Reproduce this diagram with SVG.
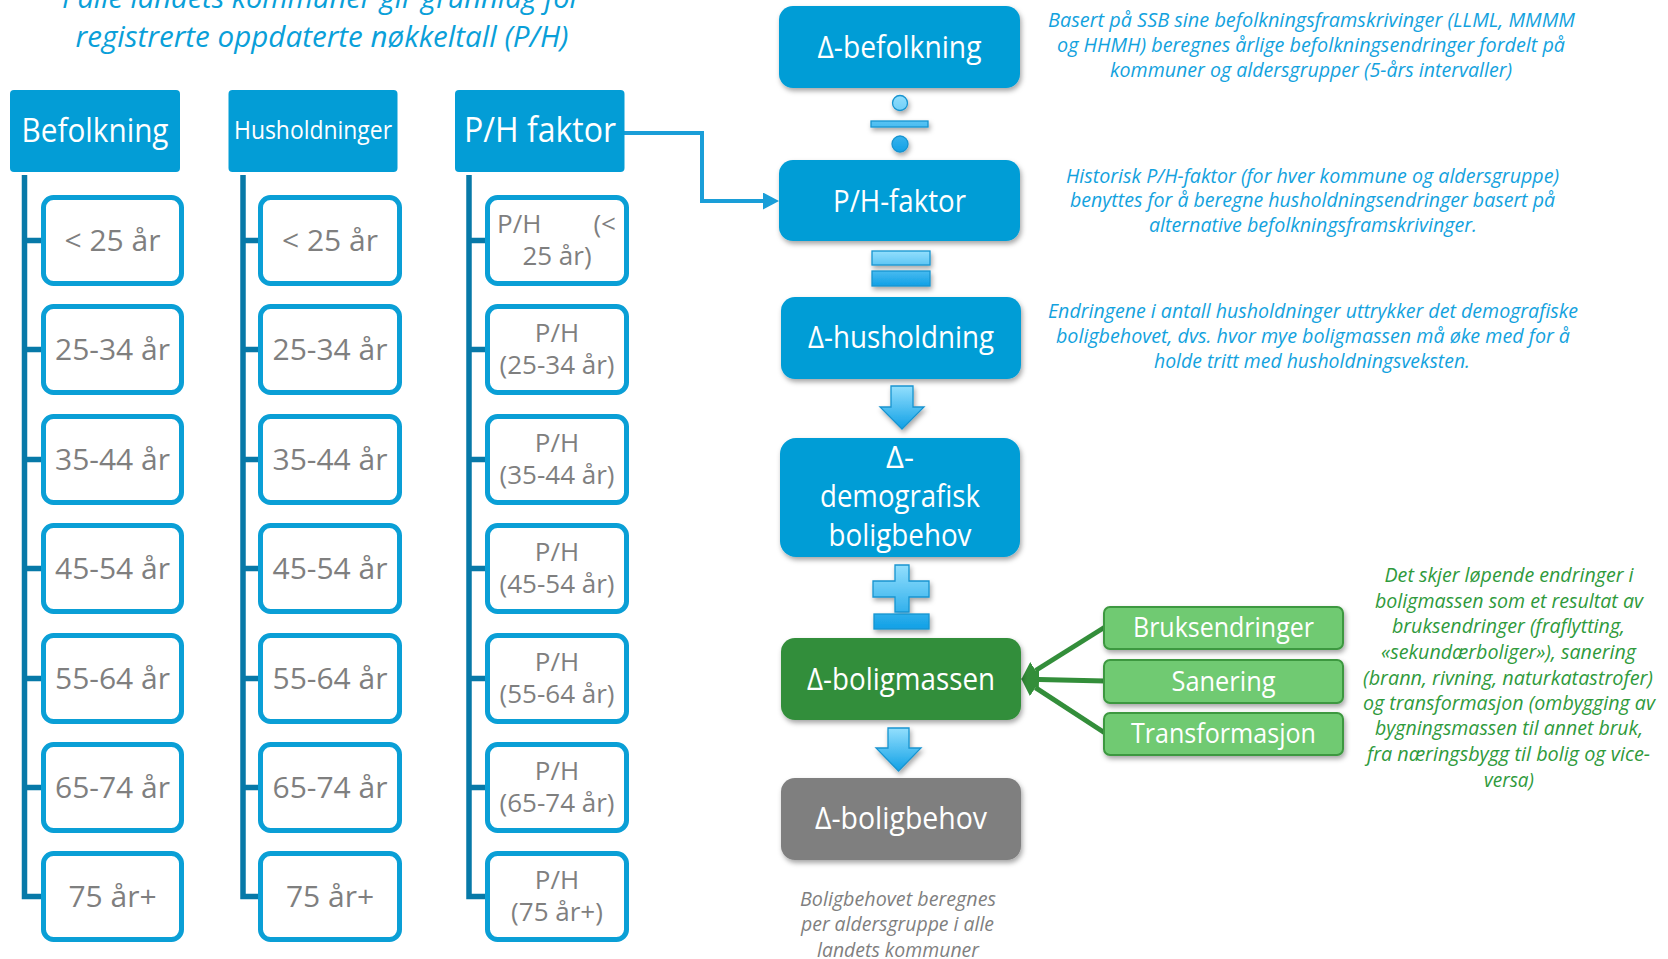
<svg xmlns="http://www.w3.org/2000/svg" width="1668" height="959" viewBox="0 0 1668 959">
<style>
  text { font-family: "Open Sans", "Liberation Sans", sans-serif; }
  .title { font-size: 30px; font-style: italic; fill: #0a9fd9; text-anchor: middle; }
  .hdr { fill: #039dd6; }
  .hdrT { fill: #ffffff; text-anchor: middle; }
  .child { fill: #ffffff; stroke: #0a9fd6; stroke-width: 5; }
  .childT { fill: #7f7f7f; font-size: 30px; text-anchor: middle; }
  .phT { fill: #7f7f7f; font-size: 26px; text-anchor: middle; }
  .tree { fill: none; stroke: #0779a8; stroke-width: 5.5; }
  .bbox { fill: #039dd6; }
  .gbox { fill: #338e3a; }
  .grbox { fill: #7f7f7f; }
  .boxT { fill: #ffffff; font-size: 31px; text-anchor: middle; }
  .lg { fill: #6fca72; stroke: #3c983f; stroke-width: 2; }
  .lgT { fill: #ffffff; font-size: 27px; text-anchor: middle; }
  .note { font-size: 20px; font-style: italic; text-anchor: middle; }
  .blueN { fill: #13a2de; }
  .greenN { fill: #2f9a3c; }
  .grayN { fill: #7f7f7f; }
  .op { stroke: #1894d0; stroke-width: 1.3; }
  .conn { fill: none; stroke: #1a9ed8; stroke-width: 4; }
  .gconn { fill: none; stroke: #338e3a; stroke-width: 5; }
</style>
<defs>
  <filter id="sh" x="-10%" y="-10%" width="125%" height="140%">
    <feDropShadow dx="1.5" dy="3" stdDeviation="2.5" flood-color="#000" flood-opacity="0.35"/>
  </filter>
  <marker id="ab" markerUnits="userSpaceOnUse" markerWidth="16" markerHeight="17" refX="0" refY="8.5" orient="auto">
    <path d="M0,0 L16,8.5 L0,17 z" fill="#1a9ed8"/>
  </marker>
  <marker id="ag" markerUnits="userSpaceOnUse" markerWidth="17" markerHeight="20" refX="0" refY="10" orient="auto">
    <path d="M0,0 L17,10 L0,20 z" fill="#338e3a"/>
  </marker>
  <linearGradient id="gDiv" gradientUnits="userSpaceOnUse" x1="0" y1="95" x2="0" y2="153">
    <stop offset="0" stop-color="#93dffd"/><stop offset="1" stop-color="#10a0e6"/>
  </linearGradient>
  <linearGradient id="gEq" gradientUnits="userSpaceOnUse" x1="0" y1="251" x2="0" y2="286">
    <stop offset="0" stop-color="#93dffd"/><stop offset="1" stop-color="#10a0e6"/>
  </linearGradient>
  <linearGradient id="gA1" gradientUnits="userSpaceOnUse" x1="0" y1="386" x2="0" y2="429">
    <stop offset="0" stop-color="#93dffd"/><stop offset="1" stop-color="#10a0e6"/>
  </linearGradient>
  <linearGradient id="gPM" gradientUnits="userSpaceOnUse" x1="0" y1="565" x2="0" y2="629">
    <stop offset="0" stop-color="#93dffd"/><stop offset="1" stop-color="#10a0e6"/>
  </linearGradient>
  <linearGradient id="gA2" gradientUnits="userSpaceOnUse" x1="0" y1="728" x2="0" y2="771">
    <stop offset="0" stop-color="#93dffd"/><stop offset="1" stop-color="#10a0e6"/>
  </linearGradient>
</defs>

<rect width="1668" height="959" fill="#ffffff"/>

<g id="title">
  <text class="title" x="321.5" y="8" textLength="519" lengthAdjust="spacingAndGlyphs">I alle landets kommuner gir grunnlag for</text>
  <text class="title" x="322" y="47" textLength="493" lengthAdjust="spacingAndGlyphs">registrerte oppdaterte nøkkeltall (P/H)</text>
</g>

<!-- connectors -->
<g id="connectors">
  <path class="tree" d="M24.5,175 V896.5 H41 M24.5,240.5 H41 M24.5,349.5 H41 M24.5,459.5 H41 M24.5,568.5 H41 M24.5,678.5 H41 M24.5,787.5 H41"/>
  <path class="tree" d="M243,175 V896.5 H258 M243,240.5 H258 M243,349.5 H258 M243,459.5 H258 M243,568.5 H258 M243,678.5 H258 M243,787.5 H258"/>
  <path class="tree" d="M469,175 V896.5 H485 M469,240.5 H485 M469,349.5 H485 M469,459.5 H485 M469,568.5 H485 M469,678.5 H485 M469,787.5 H485"/>
  <path class="conn" d="M624,133 H702 V201 H763" marker-end="url(#ab)"/>
  <path class="gconn" d="M1105,627 L1035.6,670.5" marker-end="url(#ag)"/>
  <path class="gconn" d="M1105,681 L1039,679.4" marker-end="url(#ag)"/>
  <path class="gconn" d="M1105,733 L1035.4,687.7" marker-end="url(#ag)"/>
</g>

<!-- headers -->
<g id="hdr-befolkning">
  <rect class="hdr" x="10" y="90" width="170" height="82" rx="4"/>
  <text class="hdrT" x="95" y="142" font-size="32" textLength="147" lengthAdjust="spacingAndGlyphs">Befolkning</text>
</g>
<g id="hdr-husholdninger">
  <rect class="hdr" x="228.5" y="90" width="169" height="82" rx="4"/>
  <text class="hdrT" x="313" y="139" font-size="25" textLength="158" lengthAdjust="spacingAndGlyphs">Husholdninger</text>
</g>
<g id="hdr-ph">
  <rect class="hdr" x="455" y="90" width="169.5" height="82" rx="4"/>
  <text class="hdrT" x="540" y="142" font-size="34" textLength="152" lengthAdjust="spacingAndGlyphs">P/H faktor</text>
</g>

<!-- column 1 -->
<g id="b1"><rect class="child" x="43.5" y="197.5" width="138" height="86" rx="10"/><text class="childT" x="112.5" y="251">&lt; 25 år</text></g>
<g id="b2"><rect class="child" x="43.5" y="306.5" width="138" height="86" rx="10"/><text class="childT" x="112.5" y="360">25-34 år</text></g>
<g id="b3"><rect class="child" x="43.5" y="416.5" width="138" height="86" rx="10"/><text class="childT" x="112.5" y="470">35-44 år</text></g>
<g id="b4"><rect class="child" x="43.5" y="525.5" width="138" height="86" rx="10"/><text class="childT" x="112.5" y="579">45-54 år</text></g>
<g id="b5"><rect class="child" x="43.5" y="635.5" width="138" height="86" rx="10"/><text class="childT" x="112.5" y="689">55-64 år</text></g>
<g id="b6"><rect class="child" x="43.5" y="744.5" width="138" height="86" rx="10"/><text class="childT" x="112.5" y="798">65-74 år</text></g>
<g id="b7"><rect class="child" x="43.5" y="853.5" width="138" height="86" rx="10"/><text class="childT" x="112.5" y="907">75 år+</text></g>

<!-- column 2 -->
<g id="h1"><rect class="child" x="260.5" y="197.5" width="139" height="86" rx="10"/><text class="childT" x="330" y="251">&lt; 25 år</text></g>
<g id="h2"><rect class="child" x="260.5" y="306.5" width="139" height="86" rx="10"/><text class="childT" x="330" y="360">25-34 år</text></g>
<g id="h3"><rect class="child" x="260.5" y="416.5" width="139" height="86" rx="10"/><text class="childT" x="330" y="470">35-44 år</text></g>
<g id="h4"><rect class="child" x="260.5" y="525.5" width="139" height="86" rx="10"/><text class="childT" x="330" y="579">45-54 år</text></g>
<g id="h5"><rect class="child" x="260.5" y="635.5" width="139" height="86" rx="10"/><text class="childT" x="330" y="689">55-64 år</text></g>
<g id="h6"><rect class="child" x="260.5" y="744.5" width="139" height="86" rx="10"/><text class="childT" x="330" y="798">65-74 år</text></g>
<g id="h7"><rect class="child" x="260.5" y="853.5" width="139" height="86" rx="10"/><text class="childT" x="330" y="907">75 år+</text></g>

<!-- column 3 -->
<g id="p1"><rect class="child" x="487.5" y="197.5" width="139" height="86" rx="10"/>
  <text class="phT"><tspan x="497" y="232.5" text-anchor="start">P/H</tspan><tspan x="616" y="232.5" text-anchor="end">(&lt;</tspan><tspan x="557" y="264.5">25 år)</tspan></text></g>
<g id="p2"><rect class="child" x="487.5" y="306.5" width="139" height="86" rx="10"/>
  <text class="phT"><tspan x="557" y="341.5">P/H</tspan><tspan x="557" y="373.5">(25-34 år)</tspan></text></g>
<g id="p3"><rect class="child" x="487.5" y="416.5" width="139" height="86" rx="10"/>
  <text class="phT"><tspan x="557" y="451.5">P/H</tspan><tspan x="557" y="483.5">(35-44 år)</tspan></text></g>
<g id="p4"><rect class="child" x="487.5" y="525.5" width="139" height="86" rx="10"/>
  <text class="phT"><tspan x="557" y="560.5">P/H</tspan><tspan x="557" y="592.5">(45-54 år)</tspan></text></g>
<g id="p5"><rect class="child" x="487.5" y="635.5" width="139" height="86" rx="10"/>
  <text class="phT"><tspan x="557" y="670.5">P/H</tspan><tspan x="557" y="702.5">(55-64 år)</tspan></text></g>
<g id="p6"><rect class="child" x="487.5" y="744.5" width="139" height="86" rx="10"/>
  <text class="phT"><tspan x="557" y="779.5">P/H</tspan><tspan x="557" y="811.5">(65-74 år)</tspan></text></g>
<g id="p7"><rect class="child" x="487.5" y="853.5" width="139" height="86" rx="10"/>
  <text class="phT"><tspan x="557" y="888.5">P/H</tspan><tspan x="557" y="920.5">(75 år+)</tspan></text></g>

<!-- right flow -->
<g id="d-befolkning">
  <rect class="bbox" x="779" y="6" width="241" height="82" rx="14" filter="url(#sh)"/>
  <text class="boxT" x="899.5" y="58" textLength="164" lengthAdjust="spacingAndGlyphs">Δ-befolkning</text>
</g>
<g id="op-divide" filter="url(#sh)">
  <circle class="op" cx="900" cy="103" r="7.5" fill="url(#gDiv)"/>
  <rect class="op" x="871" y="121" width="57" height="6" fill="url(#gDiv)"/>
  <circle class="op" cx="900" cy="144" r="8" fill="url(#gDiv)"/>
</g>
<g id="ph-faktor">
  <rect class="bbox" x="779" y="160" width="241" height="81" rx="14" filter="url(#sh)"/>
  <text class="boxT" x="899.5" y="212" textLength="133" lengthAdjust="spacingAndGlyphs">P/H-faktor</text>
</g>
<g id="op-equals" filter="url(#sh)">
  <rect class="op" x="872" y="251" width="58" height="14" fill="url(#gEq)"/>
  <rect class="op" x="872" y="271" width="58" height="15" fill="url(#gEq)"/>
</g>
<g id="d-husholdning">
  <rect class="bbox" x="781" y="297" width="240" height="82" rx="14" filter="url(#sh)"/>
  <text class="boxT" x="901" y="348" textLength="186" lengthAdjust="spacingAndGlyphs">Δ-husholdning</text>
</g>
<g id="arrow1" filter="url(#sh)">
  <path class="op" d="M891,386 H913 V407 H924 L902,429 L880,407 H891 Z" fill="url(#gA1)"/>
</g>
<g id="d-demografisk">
  <rect class="bbox" x="780" y="438" width="240" height="119" rx="16" filter="url(#sh)"/>
  <text class="boxT" x="900" y="468">Δ-</text>
  <text class="boxT" x="900" y="507" textLength="160" lengthAdjust="spacingAndGlyphs">demografisk</text>
  <text class="boxT" x="900" y="546" textLength="143" lengthAdjust="spacingAndGlyphs">boligbehov</text>
</g>
<g id="op-plusminus" filter="url(#sh)">
  <path class="op" d="M895,565 H909 V581 H929 V597 H909 V612 H895 V597 H873 V581 H895 Z" fill="url(#gPM)"/>
  <rect class="op" x="874" y="614" width="55" height="15" fill="url(#gPM)"/>
</g>
<g id="d-boligmassen">
  <rect class="gbox" x="781" y="638" width="240" height="82" rx="14" filter="url(#sh)"/>
  <text class="boxT" x="901" y="690" textLength="188" lengthAdjust="spacingAndGlyphs">Δ-boligmassen</text>
</g>
<g id="arrow2" filter="url(#sh)">
  <path class="op" d="M888,728 H909 V748 H921 L898.5,771 L876,748 H888 Z" fill="url(#gA2)"/>
</g>
<g id="d-boligbehov">
  <rect class="grbox" x="781" y="778" width="240" height="82" rx="14" filter="url(#sh)"/>
  <text class="boxT" x="901" y="829" textLength="172" lengthAdjust="spacingAndGlyphs">Δ-boligbehov</text>
</g>

<g id="bruksendringer">
  <rect class="lg" x="1104" y="607" width="239" height="42" rx="6" filter="url(#sh)"/>
  <text class="lgT" x="1223.5" y="637" textLength="181" lengthAdjust="spacingAndGlyphs">Bruksendringer</text>
</g>
<g id="sanering">
  <rect class="lg" x="1104" y="660" width="239" height="43" rx="6" filter="url(#sh)"/>
  <text class="lgT" x="1223.5" y="691" textLength="104" lengthAdjust="spacingAndGlyphs">Sanering</text>
</g>
<g id="transformasjon">
  <rect class="lg" x="1104" y="713" width="239" height="42" rx="6" filter="url(#sh)"/>
  <text class="lgT" x="1223.5" y="743" textLength="185" lengthAdjust="spacingAndGlyphs">Transformasjon</text>
</g>

<!-- notes -->
<g id="note-befolkning" class="note blueN">
  <text class="note blueN" x="1311.5" y="27" textLength="527" lengthAdjust="spacingAndGlyphs">Basert på SSB sine befolkningsframskrivinger (LLML, MMMM</text>
  <text class="note blueN" x="1311" y="52" textLength="508" lengthAdjust="spacingAndGlyphs">og HHMH) beregnes årlige befolkningsendringer fordelt på</text>
  <text class="note blueN" x="1311" y="77" textLength="402" lengthAdjust="spacingAndGlyphs">kommuner og aldersgrupper (5-års intervaller)</text>
</g>
<g id="note-ph">
  <text class="note blueN" x="1312.5" y="183" textLength="493" lengthAdjust="spacingAndGlyphs">Historisk P/H-faktor (for hver kommune og aldersgruppe)</text>
  <text class="note blueN" x="1312.5" y="207" textLength="485" lengthAdjust="spacingAndGlyphs">benyttes for å beregne husholdningsendringer basert på</text>
  <text class="note blueN" x="1313" y="232" textLength="328" lengthAdjust="spacingAndGlyphs">alternative befolkningsframskrivinger.</text>
</g>
<g id="note-husholdning">
  <text class="note blueN" x="1313" y="318" textLength="530" lengthAdjust="spacingAndGlyphs">Endringene i antall husholdninger uttrykker det demografiske</text>
  <text class="note blueN" x="1313" y="343" textLength="514" lengthAdjust="spacingAndGlyphs">boligbehovet, dvs. hvor mye boligmassen må øke med for å</text>
  <text class="note blueN" x="1312" y="368" textLength="316" lengthAdjust="spacingAndGlyphs">holde tritt med husholdningsveksten.</text>
</g>
<g id="note-boligmassen">
  <text class="note greenN" x="1509" y="582" textLength="249" lengthAdjust="spacingAndGlyphs">Det skjer løpende endringer i</text>
  <text class="note greenN" x="1509" y="608" textLength="268" lengthAdjust="spacingAndGlyphs">boligmassen som et resultat av</text>
  <text class="note greenN" x="1508.5" y="633" textLength="233" lengthAdjust="spacingAndGlyphs">bruksendringer (fraflytting,</text>
  <text class="note greenN" x="1508.5" y="659" textLength="255" lengthAdjust="spacingAndGlyphs">«sekundærboliger»), sanering</text>
  <text class="note greenN" x="1508" y="685" textLength="290" lengthAdjust="spacingAndGlyphs">(brann, rivning, naturkatastrofer)</text>
  <text class="note greenN" x="1509" y="710" textLength="292" lengthAdjust="spacingAndGlyphs">og transformasjon (ombygging av</text>
  <text class="note greenN" x="1509" y="735" textLength="268" lengthAdjust="spacingAndGlyphs">bygningsmassen til annet bruk,</text>
  <text class="note greenN" x="1508.5" y="761" textLength="283" lengthAdjust="spacingAndGlyphs">fra næringsbygg til bolig og vice-</text>
  <text class="note greenN" x="1509" y="787" textLength="50" lengthAdjust="spacingAndGlyphs">versa)</text>
</g>
<g id="note-boligbehov">
  <text class="note grayN" x="898" y="906" textLength="196" lengthAdjust="spacingAndGlyphs">Boligbehovet beregnes</text>
  <text class="note grayN" x="897.5" y="931" textLength="193" lengthAdjust="spacingAndGlyphs">per aldersgruppe i alle</text>
  <text class="note grayN" x="898" y="957" textLength="162" lengthAdjust="spacingAndGlyphs">landets kommuner</text>
</g>
</svg>
